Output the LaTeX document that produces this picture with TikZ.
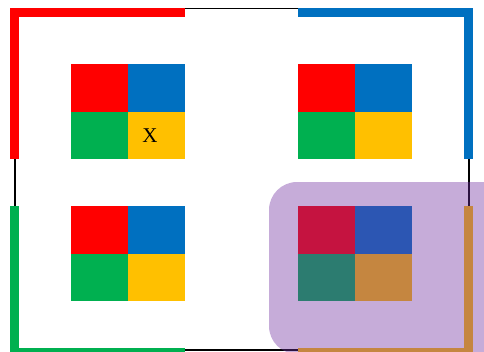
\documentclass[tikz,border=0pt]{standalone}
\usepackage{fontspec}
\setmainfont{Liberation Serif}
\usetikzlibrary{positioning}
\definecolor{boxred}{HTML}{FF0000}
\definecolor{boxblue}{HTML}{0070C0}
\definecolor{boxgreen}{HTML}{00B050}
\definecolor{boxyellow}{HTML}{FFC000}
\definecolor{hilite}{HTML}{7030A0}

\begin{document}
\begin{tikzpicture}[
    x=1pt, y=-1pt,
    cell/.style   = {minimum width=57pt, minimum height=47.5pt,
                     inner sep=0pt, outer sep=0pt},
    corner/.style = {line width=9pt, line join=miter, line cap=butt},
    frame/.style  = {draw=black, line width=1.5pt},
    cross/.style  = {font=\fontsize{21}{24}\selectfont, inner sep=0pt},
    node distance = 0pt,
  ]
  \clip (0,0) rectangle (484,351);

  % outer frame
  \draw[frame] (15,8.5) rectangle (469,350);

  % coloured corners
  \draw[corner, boxred]    (14.5,159) -- (14.5,12.5) -- (185,12.5);
  \draw[corner, boxblue]   (298,12.5) -- (468.5,12.5) -- (468.5,159);
  \draw[corner, boxgreen]  (14.5,206) -- (14.5,352.5) -- (185,352.5);
  \draw[corner, boxyellow] (298,352.5) -- (468.5,352.5) -- (468.5,206);

  % four 2x2 grids
  \foreach \g/\x/\y in {tl/71/64, tr/298/64, bl/71/206, br/298/206} {
    \node[cell, fill=boxred, anchor=north west] (\g-a) at (\x,\y) {};
    \node[cell, fill=boxblue, right=of \g-a] (\g-b) {};
    \node[cell, fill=boxgreen, below=of \g-a] (\g-c) {};
    \node[cell, fill=boxyellow, below=of \g-b] (\g-d) {};
  }
  \node[cross] (x) at ([xshift=-6.5pt]tl-d.center) {X};

  % highlight over the lower right grid
  \fill[hilite, fill opacity=0.4, rounded corners=28pt]
    (269,182) rectangle (520,354);
\end{tikzpicture}
\end{document}
